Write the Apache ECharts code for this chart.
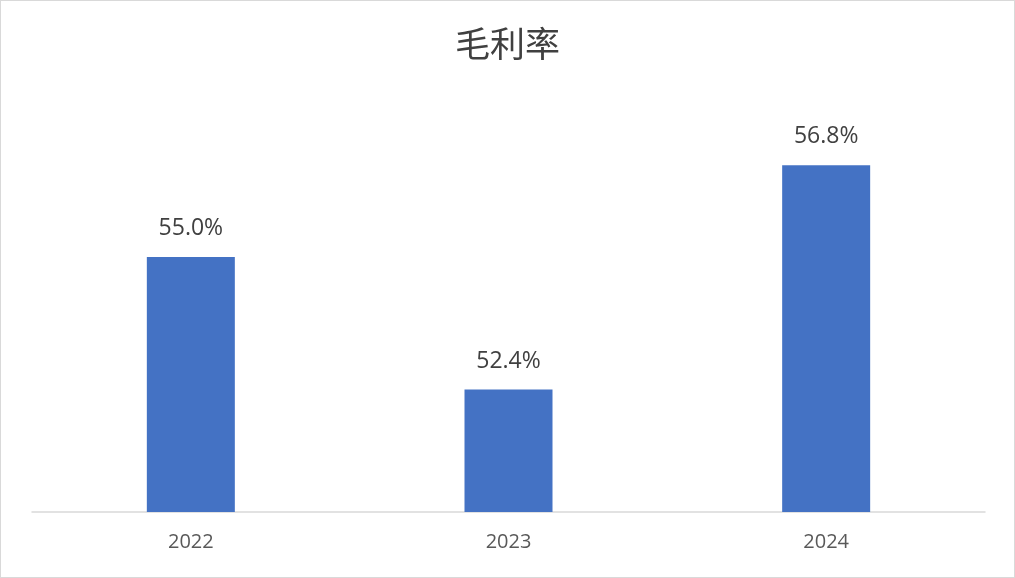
<!DOCTYPE html>
<html><head><meta charset="utf-8">
<script src="https://cdn.jsdelivr.net/npm/echarts@6/dist/echarts.min.js"></script>
<style>html,body{margin:0;padding:0;background:#fff}#c{width:1015px;height:578px;box-sizing:border-box;border:1.5px solid #d9d9d9}</style>
</head><body><div id="c"></div>
<script>
var title = '毛利率';
var categories = ['2022', '2023', '2024'];
var values = [55.0, 52.4, 56.8];
var chart = echarts.init(document.getElementById('c'));
chart.setOption({
  animation: false,
  title: {text: title, left: 'center', top: 20, textStyle: {fontFamily: 'Noto Sans CJK SC', fontSize: 35, fontWeight: 'normal', color: '#404040'}},
  grid: {left: 31, right: 29, top: 103, bottom: 65},
  xAxis: {type: 'category', data: categories,
    axisLine: {lineStyle: {color: '#d9d9d9', width: 1.5}}, axisTick: {show: false},
    axisLabel: {color: '#595959', fontSize: 20, fontFamily: 'Open Sans', margin: 20}},
  yAxis: {type: 'value', min: 50, max: 58, show: false, splitLine: {show: false}},
  series: [{type: 'bar', data: values, barWidth: 88, itemStyle: {color: '#4472C4'},
    label: {show: true, position: 'top', distance: 17, color: '#404040', fontSize: 23, fontFamily: 'Open Sans',
      formatter: function(p){return p.value.toFixed(1) + '%';}}}]
});
</script></body></html>
